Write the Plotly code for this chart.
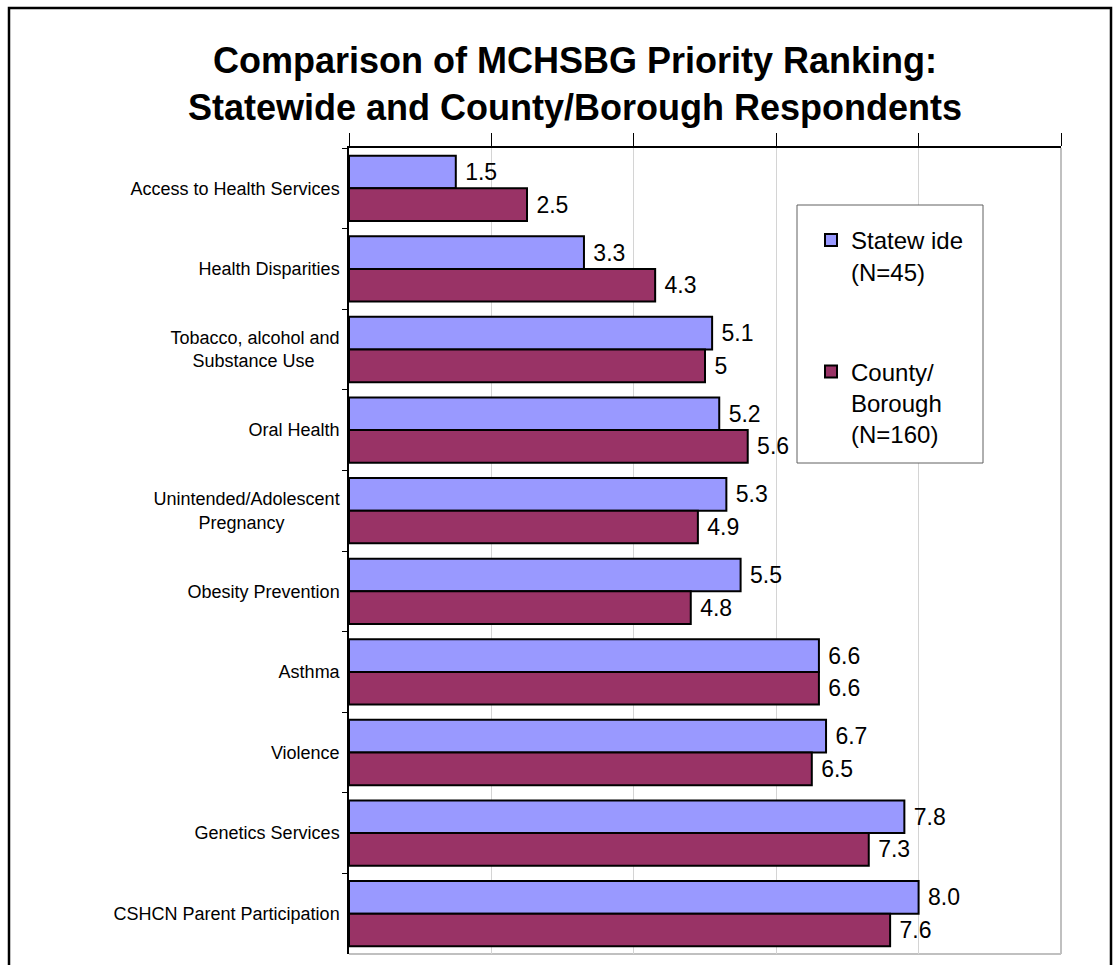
import plotly.graph_objects as go

categories = [
    "Access to Health Services",
    "Health Disparities",
    "Tobacco, alcohol and<br>Substance Use" + "\u00a0" * 5,
    "Oral Health",
    "Unintended/Adolescent<br>Pregnancy" + "\u00a0" * 11,
    "Obesity Prevention",
    "Asthma",
    "Violence",
    "Genetics Services",
    "CSHCN Parent Participation",
]
statewide = [1.5, 3.3, 5.1, 5.2, 5.3, 5.5, 6.6, 6.7, 7.8, 8.0]
statewide_labels = ["1.5", "3.3", "5.1", "5.2", "5.3", "5.5", "6.6", "6.7", "7.8", "8.0"]
county = [2.5, 4.3, 5.0, 5.6, 4.9, 4.8, 6.6, 6.5, 7.3, 7.6]
county_labels = ["2.5", "4.3", "5", "5.6", "4.9", "4.8", "6.6", "6.5", "7.3", "7.6"]

FONT = "Liberation Sans, Arial, sans-serif"
W, H = 1120, 965
L, R, T, B = 349, 1061, 148, 954

def px(x):
    return (x - L) / (R - L)

def py(y):
    return (B - y) / (B - T)

fig = go.Figure()
fig.add_trace(go.Bar(
    y=categories, x=statewide, orientation="h",
    name="Statew ide<br>(N=45)", legendgroup="a",
    marker=dict(color="#9999FF", line=dict(color="black", width=2)),
    text=[" " + t for t in statewide_labels], textposition="outside",
    textfont=dict(size=23, color="black", family=FONT),
    cliponaxis=False, constraintext="none",
))
fig.add_trace(go.Bar(
    y=categories, x=county, orientation="h",
    name="County/<br>Borough<br>(N=160)", legendgroup="b",
    marker=dict(color="#993366", line=dict(color="black", width=2)),
    text=[" " + t for t in county_labels], textposition="outside",
    textfont=dict(size=23, color="black", family=FONT),
    cliponaxis=False, constraintext="none",
))

shapes = [
    # outer frame
    dict(type="rect", xref="paper", yref="paper",
         x0=px(9), x1=px(1111), y0=py(985), y1=py(8),
         line=dict(color="black", width=2.5), fillcolor="rgba(0,0,0,0)", layer="below"),
    # plot area right & bottom border
    dict(type="line", xref="paper", yref="paper", x0=1, x1=1, y0=0, y1=1,
         line=dict(color="#c0c0c0", width=2), layer="below"),
    dict(type="line", xref="paper", yref="paper", x0=0, x1=1, y0=0, y1=0,
         line=dict(color="#c0c0c0", width=2), layer="below"),
    # legend box
    dict(type="rect", xref="paper", yref="paper",
         x0=px(797), x1=px(983), y0=py(463), y1=py(205),
         line=dict(color="#606060", width=1), fillcolor="white", layer="above"),
]

fig.update_layout(
    width=W, height=H,
    margin=dict(l=L, r=W - R, t=T, b=H - B),
    paper_bgcolor="white", plot_bgcolor="white",
    font=dict(family=FONT, color="black"),
    barmode="group", bargap=0.19, bargroupgap=0,
    title=dict(
        text="<b>Comparison of MCHSBG Priority Ranking:<br>Statewide and County/Borough Respondents</b>",
        font=dict(size=36, family=FONT, color="black"),
        x=575 / W, xanchor="center", xref="container",
        y=1 - 73 / H, yanchor="top", yref="container",
    ),
    xaxis=dict(
        side="top", range=[0, 10], tick0=0, dtick=2,
        showticklabels=False, ticks="outside", ticklen=13, tickcolor="black", tickwidth=1,
        showline=True, linecolor="black", linewidth=1.5,
        showgrid=True, gridcolor="#d4d4d4", gridwidth=1, zeroline=False,
    ),
    yaxis=dict(
        type="category", autorange="reversed",
        showline=True, linecolor="black", linewidth=1.5,
        ticks="outside", ticklen=5, tickcolor="black", tickson="boundaries",
        showgrid=False, tickfont=dict(size=18, color="black", family=FONT),
        ticklabelstandoff=4,
    ),
    legend=dict(
        x=px(811), y=py(218), xanchor="left", yanchor="top",
        xref="paper", yref="paper",
        bgcolor="rgba(0,0,0,0)", borderwidth=0,
        font=dict(size=24, family=FONT, color="black"),
        traceorder="grouped", tracegroupgap=66, valign="top",
    ),
    shapes=shapes,
)

fig.write_html("out.html", config={"displayModeBar": False},
               post_script="document.body.style.margin='0';")
